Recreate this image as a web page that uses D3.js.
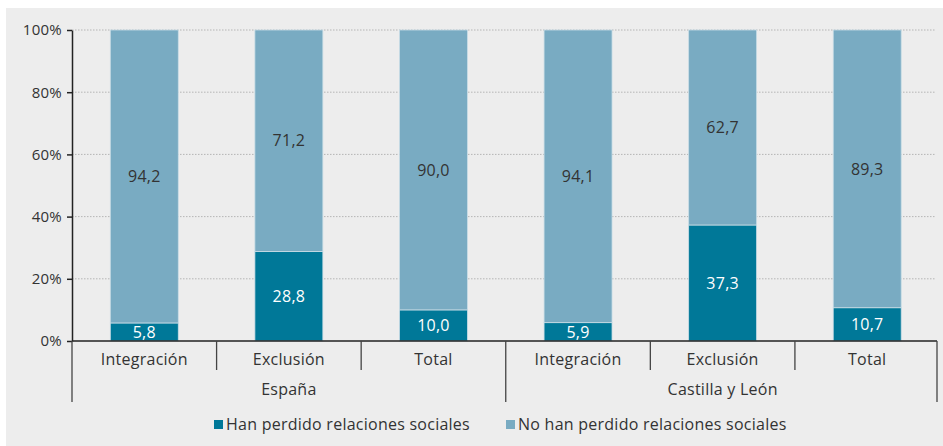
<!DOCTYPE html>
<html>
<head>
<meta charset="utf-8">
<script src="https://cdn.jsdelivr.net/npm/d3@7"></script>
<style>
  html, body { margin: 0; padding: 0; background: #ffffff; }
  svg { display: block; }
  text { font-family: "Open Sans", Lato, sans-serif; fill: #333333; }
</style>
</head>
<body>
<div id="chart"></div>
<script>
// Share of people who lost social relations, by integration level and territory
const groups = ["España", "Castilla y León"];
const categories = ["Integración", "Exclusión", "Total"];
const lost = [5.8, 28.8, 10.0, 5.9, 37.3, 10.7];
const notLost = [94.2, 71.2, 90.0, 94.1, 62.7, 89.3];
const seriesNames = ["Han perdido relaciones sociales", "No han perdido relaciones sociales"];
const seriesColors = ["#007898", "#79abc2"];
const yTicks = [0, 20, 40, 60, 80, 100];

const W = 943, H = 446;
const margin = { left: 72, right: 3, top: 30, bottom: 105 };
const innerW = W - margin.left - margin.right;
const innerH = H - margin.top - margin.bottom;
const FONT = "'Open Sans', Lato, sans-serif";
const LS = "0.25px";
const FS = 16;

const svg = d3.select("#chart").append("svg").attr("width", W).attr("height", H);
svg.append("rect").attr("x", 6).attr("y", 8).attr("width", W - 6).attr("height", H - 8).attr("fill", "#ededed");

const g = svg.append("g").attr("transform", `translate(${margin.left},${margin.top})`);

const rows = [];
groups.forEach((grp, gi) => categories.forEach((cat, ci) => {
  const i = gi * categories.length + ci;
  rows.push({ key: grp + "|" + cat, group: grp, cat, lost: lost[i], notLost: notLost[i] });
}));

const x = d3.scaleBand().domain(rows.map(d => d.key)).range([0, innerW - 0.5]).paddingInner(0.53).paddingOuter(0.265);
const y = d3.scaleLinear().domain([0, 100]).range([innerH, 0]);
const fmt = v => d3.format(".1f")(v).replace(".", ",");

// dotted gridlines
g.append("g").selectAll("line").data(yTicks.filter(t => t > 0)).join("line")
  .attr("x1", 0).attr("x2", innerW - 4)
  .attr("y1", d => y(d)).attr("y2", d => y(d))
  .attr("stroke", "#b5b5b5").attr("stroke-width", 1).attr("stroke-dasharray", "1.5,1.5");

// stacked bars
const stack = d3.stack().keys(["lost", "notLost"]);
const layers = stack(rows);
g.append("g").selectAll("g").data(layers).join("g")
  .attr("fill", (d, i) => seriesColors[i])
  .selectAll("rect").data(d => d.map(p => ({ p, key: p.data.key }))).join("rect")
  .attr("x", d => x(d.key))
  .attr("width", x.bandwidth())
  .attr("y", d => y(d.p[1]))
  .attr("height", d => y(d.p[0]) - y(d.p[1]))
  .attr("stroke", "#c9dde6").attr("stroke-width", 0.8);

// value labels
layers.forEach((layer, li) => {
  g.append("g").selectAll("text").data(layer).join("text")
    .attr("x", d => x(d.data.key) + x.bandwidth() / 2)
    .attr("y", d => (y(d[0]) + y(d[1])) / 2)
    .attr("dy", "0.36em")
    .attr("text-anchor", "middle")
    .attr("font-size", FS)
    .style("letter-spacing", LS)
    .style("fill", li === 0 ? "#ffffff" : "#333333")
    .text(d => fmt(d[1] - d[0]));
});

// y axis
const yAxis = g.append("g").call(d3.axisLeft(y).tickValues(yTicks).tickFormat(d => d + "%").tickSize(5).tickSizeOuter(0));
yAxis.select(".domain").attr("stroke", "#222").attr("stroke-width", 1.5);
yAxis.selectAll(".tick line").attr("stroke", "#222").attr("stroke-width", 1.5);
yAxis.selectAll(".tick text").attr("font-size", 15).attr("font-family", FONT)
  .style("letter-spacing", LS).attr("x", -10).style("fill", "#333");

// x baseline
g.append("line").attr("x1", 0).attr("x2", innerW - 3).attr("y1", innerH).attr("y2", innerH)
  .attr("stroke", "#222").attr("stroke-width", 1.5);

// category separators and labels
const step = x.step();
const catStart = i => i * step;
const sepData = d3.range(rows.length + 1);
g.append("g").selectAll("line").data(sepData).join("line")
  .attr("x1", i => Math.min(catStart(i), innerW - 3)).attr("x2", i => Math.min(catStart(i), innerW - 3))
  .attr("y1", innerH)
  .attr("y2", i => (i % categories.length === 0) ? innerH + 61 : innerH + 29)
  .attr("stroke", "#444").attr("stroke-width", 1.3);

g.append("g").selectAll("text").data(rows).join("text")
  .attr("x", d => x(d.key) + x.bandwidth() / 2)
  .attr("y", innerH + 18)
  .attr("dy", "0.36em")
  .attr("text-anchor", "middle").attr("font-size", FS)
  .style("letter-spacing", LS)
  .text(d => d.cat);

g.append("g").selectAll("text").data(groups).join("text")
  .attr("x", (d, i) => (i * categories.length + categories.length / 2) * step)
  .attr("y", innerH + 48)
  .attr("dy", "0.36em")
  .attr("text-anchor", "middle").attr("font-size", FS)
  .style("letter-spacing", LS)
  .text(d => d);

// legend
const legendX = [214, 506];
const legend = svg.append("g").selectAll("g").data(seriesNames).join("g")
  .attr("transform", (d, i) => `translate(${legendX[i]},424)`);
legend.append("rect").attr("x", 0).attr("y", -4).attr("width", 9).attr("height", 9)
  .attr("fill", (d, i) => seriesColors[i]);
legend.append("text").attr("x", 12).attr("y", 0).attr("dy", "0.36em").attr("font-size", FS)
  .style("letter-spacing", LS).text(d => d);
</script>
</body>
</html>
